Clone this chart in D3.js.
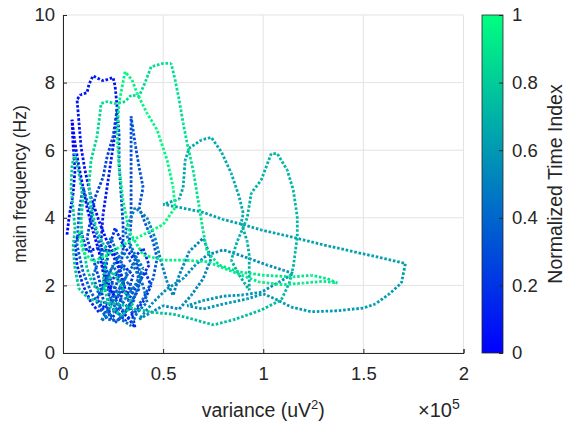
<!DOCTYPE html>
<html lang="en">
    <head>
        <meta charset="UTF-8"/>
        <title>Main frequency vs variance</title>
        <script src="https://d3js.org/d3.v7.min.js"></script>
        <style>
            body { margin: 0; background: #fff; }
            text { font-family: "Liberation Sans", Arial, sans-serif; fill: #262626; }
        </style>
    </head>

    <body>
        <script>
        // trajectory, variance in units of 1e5 uV^2, frequency in Hz, in time order
        var variance = [
            0.02,0.03,0.05,0.06,0.05,0.045,0.06,0.08,0.1,0.12,
            0.15,0.18,0.2,0.23,0.27,0.3,0.27,0.22,0.18,0.14,
            0.11,0.09,0.08,0.07,0.09,0.12,0.13,0.15,0.2,0.25,
            0.26,0.27,0.26,0.24,0.22,0.2,0.19,0.2,0.23,0.27,
            0.3,0.33,0.36,0.34,0.31,0.28,0.24,0.17,0.12,0.09,
            0.06,0.07,0.1,0.14,0.18,0.22,0.25,0.3,0.35,0.32,
            0.38,0.43,0.4,0.35,0.3,0.26,0.23,0.2,0.17,0.21,
            0.26,0.31,0.36,0.41,0.44,0.41,0.37,0.33,0.3,0.28,
            0.28,0.24,0.2,0.18,0.15,0.12,0.14,0.16,0.2,0.22,
            0.25,0.27,0.28,0.28,0.29,0.3,0.3,0.28,0.25,0.22,
            0.26,0.3,0.34,0.38,0.37,0.33,0.34,0.34,0.34,0.34,
            0.34,0.36,0.38,0.4,0.38,0.42,0.45,0.47,0.45,0.4,
            0.35,0.3,0.25,0.2,0.17,0.13,0.1,0.08,0.07,0.1,
            0.14,0.18,0.22,0.27,0.32,0.36,0.39,0.37,0.33,0.28,
            0.33,0.36,0.31,0.26,0.3,0.25,0.21,0.24,0.29,0.34,
            0.37,0.42,0.4,0.35,0.3,0.26,0.22,0.18,0.15,0.19,
            0.24,0.28,0.32,0.27,0.23,0.19,0.25,0.31,0.36,0.4,
            0.36,0.33,0.31,0.36,0.42,0.46,0.49,0.52,0.55,0.58,
            0.63,0.7,0.74,0.7,0.64,0.58,0.5,
            0.44,0.38,0.45,0.52,0.6,0.66,0.72,0.8,0.88,0.95,
            1.02,1.1,1.15,1.08,0.99,0.9,0.8,0.7,0.62,0.7,
            0.8,0.92,1.0,1.06,1.14,1.24,1.37,1.5,1.56,1.63,
            1.69,1.71,1.6,1.45,1.3,1.15,0.99,0.9,0.8,0.69,
            0.5,0.58,0.6,0.61,0.63,0.69,0.74,0.79,0.84,0.88,0.9,
            0.89,0.92,0.93,0.93,0.93,0.88,0.84,0.87,0.92,0.94,
            0.99,1.04,1.07,1.12,1.15,1.17,1.17,1.15,1.13,1.09,
            0.99,0.85,0.75,
            0.65,0.55,0.45,0.36,0.28,0.2,0.13,0.08,0.06,0.05,
            0.06,0.05,0.04,0.045,0.06,0.08,0.1,0.09,0.1,0.12,
            0.15,0.2,0.25,0.3,0.35,0.29,0.23,0.2,0.22,0.17,
            0.14,0.13,0.14,0.17,0.185,
            0.19,0.22,0.26,0.31,0.34,0.38,0.41,0.44,0.5,0.54,
            0.56,0.58,0.6,0.62,0.65,0.68,0.7,0.72,0.78,0.88,
            1.0,1.15,1.24,1.32,1.37,1.3,1.2,1.1,0.98,0.85,
            0.72,0.6,0.5,0.4,0.33,0.3,0.28,0.27,0.28,0.31,
            0.345,0.37,0.42,0.47,0.52,0.55,0.56,0.5,0.4,0.3,
            0.22,0.15,0.1,0.08
        ];
        var mainFreq = [
            3.5,4.0,4.7,5.4,6.2,6.9,6.2,5.5,4.9,4.3,
            3.6,3.0,2.4,1.9,1.6,2.1,2.8,3.3,3.9,4.6,
            5.4,6.1,6.8,7.5,7.65,7.7,7.95,8.2,8.05,8.15,
            7.9,7.3,6.5,5.7,4.9,4.1,3.3,2.6,2.0,1.5,
            1.2,1.0,0.75,1.3,1.9,2.5,3.0,3.1,3.0,3.6,
            3.3,2.6,2.0,1.5,1.2,1.5,2.2,2.6,2.3,1.7,
            2.1,2.6,3.1,2.8,3.2,3.7,3.1,2.0,1.6,1.2,
            1.3,0.95,1.2,1.6,2.0,2.4,2.0,1.6,1.9,1.4,
            1.3,1.0,1.6,2.2,2.8,3.4,4.0,4.6,5.2,5.8,
            6.4,7.2,6.5,5.6,4.7,3.8,3.0,2.3,1.7,1.3,
            0.9,1.1,1.5,1.9,2.6,3.2,3.9,4.6,5.4,6.2,
            7.0,6.2,5.5,4.9,4.3,3.7,3.3,2.8,2.2,1.6,
            1.2,1.5,2.0,2.7,3.5,4.3,4.9,4.2,3.2,2.4,
            1.8,1.4,1.0,0.95,1.3,1.7,2.2,2.8,2.4,1.9,
            2.1,1.6,1.2,1.5,2.0,2.6,2.1,1.6,1.0,0.8,
            1.2,1.5,2.0,2.6,3.0,2.7,2.2,1.7,2.3,2.9,
            3.4,2.8,2.3,1.8,1.3,0.95,1.2,1.6,2.0,2.5,
            2.9,3.3,3.6,4.3,4.0,3.4,2.7,2.1,1.7,2.3,
            3.0,3.4,2.8,2.2,1.7,1.3,1.4,
            1.2,1.0,1.5,1.9,2.2,2.6,2.9,3.05,2.9,2.75,
            2.6,2.45,2.35,2.1,1.8,1.72,1.68,1.55,1.4,1.3,
            1.45,1.6,1.75,1.6,1.36,1.22,1.25,1.33,1.45,1.75,
            2.07,2.65,2.8,3.0,3.2,3.42,3.64,3.8,3.95,4.18,
            4.4,4.55,4.9,5.7,6.06,6.3,6.38,5.96,5.32,4.62,4.13,
            3.85,3.3,2.9,2.3,1.86,2.3,2.75,3.3,4.0,4.73,
            5.12,5.9,5.9,5.41,4.82,4.03,3.44,2.55,2.07,1.57,
            1.27,0.98,0.83,
            1.0,1.15,1.2,1.3,1.45,1.5,1.6,1.9,2.5,3.1,
            3.7,4.3,4.9,5.56,5.9,5.3,4.6,3.9,3.2,2.5,
            2.0,1.8,2.4,1.9,1.4,1.1,1.4,2.1,3.0,3.6,
            4.3,5.0,5.7,6.4,7.09,
            7.38,7.44,7.38,7.44,7.63,7.6,8.0,8.47,8.57,8.57,
            8.08,7.49,6.8,6.2,5.41,4.33,3.6,3.0,2.6,2.4,
            2.3,2.25,2.3,2.2,2.07,2.12,2.07,2.02,2.1,2.4,
            2.7,2.75,2.75,2.9,3.6,4.5,5.5,6.5,7.4,8.32,
            8.08,7.68,7.09,6.6,5.71,4.9,4.3,3.8,3.5,3.2,
            2.9,2.7,3.0,3.6
        ];
        var xTicks = [0, 0.5, 1, 1.5, 2];
        var yTicks = [0, 2, 4, 6, 8, 10];
        var cTicks = [0, 0.2, 0.4, 0.6, 0.8, 1];

        var w = 565;
        var h = 425;
        var padL = 63, padR = 463.5, padT = 15, padB = 353;

        var xScale = d3.scaleLinear().domain([0, 2]).range([padL, padR]);
        var yScale = d3.scaleLinear().domain([0, 10]).range([padB, padT]);

        // MATLAB "winter" colormap
        var winter = function(t) {
            return d3.rgb(0, 255 * t, 255 * (1 - 0.5 * t)).formatHex();
        };

        var svg = d3.select("body")
                    .append("svg")
                    .attr("width", w)
                    .attr("height", h);

        // grid
        svg.append("g")
            .selectAll("line")
            .data(xTicks)
            .enter()
            .append("line")
            .attr("x1", d => xScale(d))
            .attr("x2", d => xScale(d))
            .attr("y1", padT)
            .attr("y2", padB)
            .attr("stroke", "#e3e3e3")
            .attr("stroke-width", 1);
        svg.append("g")
            .selectAll("line")
            .data(yTicks)
            .enter()
            .append("line")
            .attr("x1", padL)
            .attr("x2", padR)
            .attr("y1", d => yScale(d))
            .attr("y2", d => yScale(d))
            .attr("stroke", "#e3e3e3")
            .attr("stroke-width", 1);

        // dotted trajectory, one piece per step, coloured by normalized time index
        var n = variance.length;
        var steps = [];
        var run = 0;
        for (var i = 0; i < n - 1; i++) {
            var x1 = xScale(variance[i]), y1 = yScale(mainFreq[i]);
            var x2 = xScale(variance[i + 1]), y2 = yScale(mainFreq[i + 1]);
            steps.push({x1: x1, y1: y1, x2: x2, y2: y2, t: (i + 0.5) / (n - 1), off: run});
            run += Math.hypot(x2 - x1, y2 - y1);
        }

        svg.append("g")
            .selectAll("line")
            .data(steps)
            .enter()
            .append("line")
            .attr("x1", d => d.x1)
            .attr("y1", d => d.y1)
            .attr("x2", d => d.x2)
            .attr("y2", d => d.y2)
            .attr("stroke", d => winter(d.t))
            .attr("stroke-width", 2.8)
            .attr("stroke-dasharray", "2.6 1.8")
            .attr("stroke-dashoffset", d => d.off);

        // axes
        var xAxis = d3.axisBottom(xScale).tickValues(xTicks).tickSize(-4).tickPadding(14).tickFormat(d3.format("~g"));
        var yAxis = d3.axisLeft(yScale).tickValues(yTicks).tickSize(-4).tickPadding(8).tickFormat(d3.format("~g"));

        var gx = svg.append("g")
            .attr("transform", "translate(0," + padB + ")")
            .call(xAxis);
        var gy = svg.append("g")
            .attr("transform", "translate(" + padL + ",0)")
            .call(yAxis);
        [gx, gy].forEach(function(g) {
            g.select(".domain").attr("stroke", "#262626").attr("stroke-width", 1);
            g.selectAll(".tick line").attr("stroke", "#262626");
            g.selectAll(".tick text")
                .attr("font-size", "18.5px")
                .attr("font-family", "Liberation Sans, Arial, sans-serif")
                .attr("fill", "#262626");
        });

        svg.append("text")
            .attr("x", (padL + padR) / 2)
            .attr("y", 417)
            .attr("text-anchor", "middle")
            .attr("font-size", "19.5px")
            .html("variance (uV<tspan dy='-8' font-size='13px'>2</tspan><tspan dy='8'>)</tspan>");

        svg.append("text")
            .attr("x", 418)
            .attr("y", 417)
            .attr("font-size", "20px")
            .html("\u00d710<tspan dy='-8' font-size='14px'>5</tspan>");

        svg.append("text")
            .attr("transform", "translate(26," + (padT + padB) / 2 + ") rotate(-90)")
            .attr("text-anchor", "middle")
            .attr("font-size", "17.5px")
            .text("main frequency (Hz)");

        // colorbar
        var cbL = 482, cbW = 21;
        var cScale = d3.scaleLinear().domain([0, 1]).range([padB, padT]);

        var grad = svg.append("defs")
            .append("linearGradient")
            .attr("id", "winter")
            .attr("x1", 0).attr("y1", 1)
            .attr("x2", 0).attr("y2", 0);
        grad.selectAll("stop")
            .data(cTicks)
            .enter()
            .append("stop")
            .attr("offset", d => d)
            .attr("stop-color", d => winter(d));

        svg.append("rect")
            .attr("x", cbL)
            .attr("y", padT)
            .attr("width", cbW)
            .attr("height", padB - padT)
            .attr("fill", "url(#winter)")
            .attr("stroke", "#262626")
            .attr("stroke-width", 0.8);

        var cAxis = d3.axisRight(cScale).tickValues(cTicks).tickSize(-4).tickPadding(9).tickFormat(d3.format("~g"));
        var gc = svg.append("g")
            .attr("transform", "translate(" + (cbL + cbW) + ",0)")
            .call(cAxis);
        gc.select(".domain").remove();
        gc.selectAll(".tick line").attr("stroke", "#262626");
        gc.selectAll(".tick text")
            .attr("font-size", "18.5px")
            .attr("font-family", "Liberation Sans, Arial, sans-serif")
            .attr("fill", "#262626");

        svg.append("text")
            .attr("transform", "translate(562," + (padT + padB) / 2 + ") rotate(-90)")
            .attr("text-anchor", "middle")
            .attr("font-size", "19.5px")
            .text("Normalized Time Index");
        </script>
    </body>
</html>
